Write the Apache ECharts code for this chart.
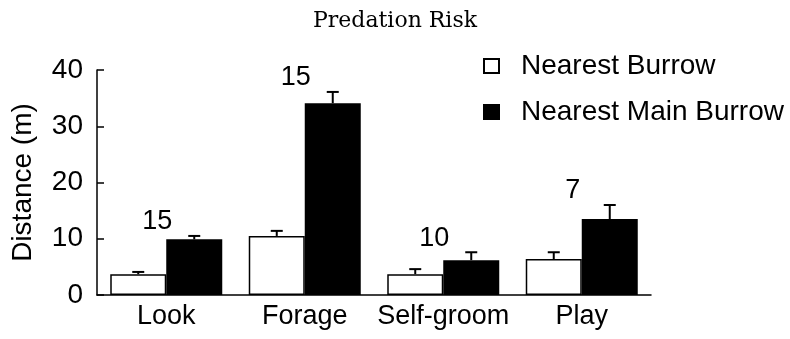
<!DOCTYPE html>
<html>
<head>
<meta charset="utf-8">
<script src="https://cdn.jsdelivr.net/npm/echarts@6/dist/echarts.min.js"></script>
<style>
  html, body { margin: 0; padding: 0; background: #fff; }
  #chart { width: 790px; height: 339px; }
</style>
</head>
<body>
<div id="chart"></div>
<script>
// values
const categories = ['Look', 'Forage', 'Self-groom', 'Play']
const nearestBurrow = [3.7, 10.5, 3.7, 6.4]
const nearestBurrowTop = [4.1, 11.4, 4.6, 7.6]   // upper end of error bar
const mainBurrow = [9.9, 34.1, 6.2, 13.5]
const mainBurrowTop = [10.5, 36.1, 7.6, 16.0]
const sampleSizes = ['15', '15', '10', '7']
const yMin = 0
const yMax = 40
const yStep = 10

const BAR_W = 56
const FONT = '"Liberation Sans", Arial, sans-serif'

function errorBars(tops, offset) {
  return {
    type: 'custom',
    silent: true,
    z: 5,
    data: tops.map((top, i) => [i, top, offset < 0 ? nearestBurrow[i] : mainBurrow[i]]),
    renderItem(params, api) {
      const hi = api.coord([api.value(0), api.value(1)])
      const lo = api.coord([api.value(0), api.value(2)])
      const x = hi[0] + offset
      return {
        type: 'group',
        children: [
          { type: 'line', shape: { x1: x, y1: lo[1], x2: x, y2: hi[1] }, style: { stroke: '#000', lineWidth: 2 } },
          { type: 'line', shape: { x1: x - 6, y1: hi[1], x2: x + 6, y2: hi[1] }, style: { stroke: '#000', lineWidth: 2 } }
        ]
      }
    }
  }
}

const chart = echarts.init(document.getElementById('chart'))

chart.setOption({
  backgroundColor: '#fff',
  animation: false,
  title: {
    text: 'Predation Risk',
    left: 'center',
    top: 5,
    textStyle: { fontFamily: '"DejaVu Serif", serif', fontSize: 22, fontWeight: 'normal', color: '#000' }
  },
  legend: {
    orient: 'vertical',
    left: 483,
    top: 52,
    padding: 0,
    itemWidth: 15,
    itemHeight: 14,
    itemGap: 18,
    icon: 'rect',
    data: ['Nearest Burrow', 'Nearest Main Burrow'],
    textStyle: { fontFamily: FONT, fontSize: 28, color: '#000', padding: [0, 0, 0, 17] }
  },
  grid: {
    left: 97,
    right: 139,
    top: 70,
    bottom: 44,
    containLabel: false
  },
  xAxis: {
    type: 'category',
    data: categories,
    axisLine: { lineStyle: { color: '#000', width: 1.5 } },
    axisTick: { show: false },
    axisLabel: { color: '#000', fontFamily: FONT, fontSize: 27, margin: 8, interval: 0 }
  },
  yAxis: {
    type: 'value',
    min: yMin,
    max: yMax,
    interval: yStep,
    name: 'Distance (m)',
    nameLocation: 'middle',
    nameGap: 60,
    nameTextStyle: { color: '#000', fontFamily: FONT, fontSize: 28 },
    axisLine: { show: true, lineStyle: { color: '#000', width: 1.5 } },
    axisTick: { show: true, inside: true, length: 7, lineStyle: { color: '#000', width: 1.5 } },
    axisLabel: { color: '#000', fontFamily: FONT, fontSize: 28, margin: 14 },
    splitLine: { show: false }
  },
  series: [
    {
      name: 'Nearest Burrow',
      type: 'bar',
      data: nearestBurrow,
      barWidth: BAR_W,
      barGap: '0%',
      itemStyle: { color: '#fff', borderColor: '#000', borderWidth: 1.5 }
    },
    {
      name: 'Nearest Main Burrow',
      type: 'bar',
      data: mainBurrow,
      barWidth: BAR_W,
      barGap: '0%',
      itemStyle: { color: '#000', borderColor: '#000', borderWidth: 1.5 }
    },
    errorBars(nearestBurrowTop, -BAR_W / 2),
    errorBars(mainBurrowTop, BAR_W / 2),
    {
      type: 'custom',
      silent: true,
      data: sampleSizes.map((n, i) => [i, Math.max(nearestBurrowTop[i], mainBurrowTop[i]), n]),
      renderItem(params, api) {
        const p = api.coord([api.value(0), api.value(1)])
        return {
          type: 'text',
          x: p[0] - 9,
          y: p[1] - 14,
          style: {
            text: sampleSizes[params.dataIndex],
            fill: '#000',
            font: '27px ' + FONT,
            align: 'center',
            verticalAlign: 'middle'
          }
        }
      }
    }
  ]
})
</script>
</body>
</html>
